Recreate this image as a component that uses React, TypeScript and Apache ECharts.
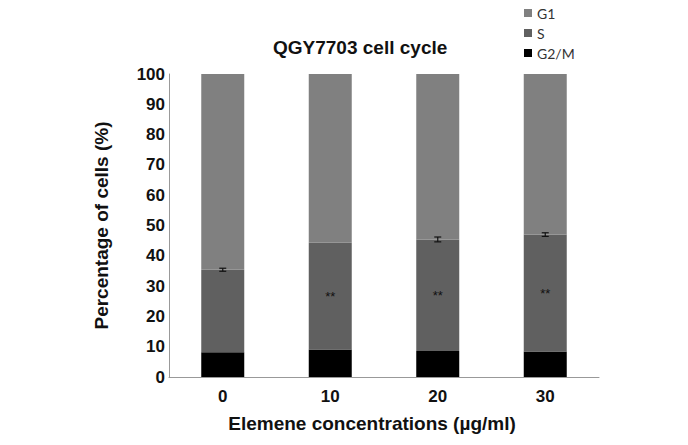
import React, { useEffect, useRef } from "react";
import * as echarts from "echarts";

const categories = ["0", "10", "20", "30"];
const g2m = [8.2, 9.1, 8.6, 8.4];
const sPhase = [27.2, 35.2, 36.8, 38.6];
const g1 = [64.6, 55.7, 54.6, 53.0];
const sError = [0.5, 0, 0.8, 0.6];
const significance = ["", "**", "**", "**"];
const yTicks = [0, 10, 20, 30, 40, 50, 60, 70, 80, 90, 100];

const FONT = "Liberation Sans, Arial, sans-serif";

export default function App() {
  const ref = useRef<HTMLDivElement>(null);
  useEffect(() => {
    if (!ref.current) return;
    const chart = echarts.init(ref.current, null, { renderer: "svg" });
    const errData = categories.map((c, i) => [i, g2m[i] + sPhase[i], sError[i]]);
    chart.setOption({
      animation: false,
      backgroundColor: "#ffffff",
      title: {
        text: "QGY7703 cell cycle",
        left: 268,
        top: 33,
        textStyle: { fontFamily: FONT, fontSize: 19, fontWeight: "bold", color: "#111" },
      },
      legend: {
        data: ["G1", "S", "G2/M"],
        orient: "vertical",
        left: 519,
        top: 1,
        itemWidth: 8,
        itemHeight: 8,
        itemGap: 6,
        icon: "rect",
        textStyle: { fontFamily: "Lato, sans-serif", fontSize: 14, color: "#333", lineHeight: 14, padding: [0, 0, 0, 0] },
      },
      grid: { left: 169, right: 89, top: 74, bottom: 68 },
      xAxis: {
        type: "category",
        data: categories,
        axisTick: { show: false },
        axisLine: { lineStyle: { color: "#999", width: 1 } },
        axisLabel: { fontFamily: FONT, fontSize: 17, fontWeight: "bold", color: "#111", margin: 11 },
        name: "Elemene concentrations (µg/ml)",
        nameLocation: "middle",
        nameGap: 37,
        nameTextStyle: { fontFamily: FONT, fontSize: 19, fontWeight: "bold", color: "#111", padding: [0, 24, 0, 0] },
      },
      yAxis: {
        type: "value",
        min: yTicks[0],
        max: yTicks[yTicks.length - 1],
        interval: yTicks[1] - yTicks[0],
        splitLine: { show: false },
        axisTick: { show: false },
        axisLine: { show: true, lineStyle: { color: "#999", width: 1 } },
        axisLabel: { fontFamily: FONT, fontSize: 17, fontWeight: "bold", color: "#111", margin: 4 },
        name: "Percentage of cells (%)",
        nameLocation: "middle",
        nameGap: 58,
        nameTextStyle: { fontFamily: FONT, fontSize: 19, fontWeight: "bold", color: "#111" },
      },
      series: [
        {
          name: "G2/M",
          type: "bar",
          stack: "total",
          barWidth: 43,
          itemStyle: { color: "#000000" },
          data: g2m,
        },
        {
          name: "S",
          type: "bar",
          stack: "total",
          barWidth: 43,
          itemStyle: { color: "#606060" },
          data: sPhase.map((v, i) => ({
            value: v,
            label: {
              show: significance[i] !== "",
              position: "inside",
              formatter: significance[i],
              fontFamily: FONT,
              fontSize: 13,
              color: "#111",
            },
          })),
        },
        {
          name: "G1",
          type: "bar",
          stack: "total",
          barWidth: 43,
          itemStyle: { color: "#808080" },
          data: g1,
        },
        {
          name: "err",
          type: "custom",
          z: 10,
          data: errData,
          renderItem: (params: any, api: any) => {
            const x = api.value(0);
            const y = api.value(1);
            const e = api.value(2);
            if (!e) return null;
            const top = api.coord([x, y + e]);
            const bot = api.coord([x, y - e]);
            const hw = 3.5;
            const style = { stroke: "#111", lineWidth: 1.2 };
            return {
              type: "group",
              children: [
                { type: "line", shape: { x1: top[0], y1: top[1], x2: bot[0], y2: bot[1] }, style },
                { type: "line", shape: { x1: top[0] - hw, y1: top[1], x2: top[0] + hw, y2: top[1] }, style },
                { type: "line", shape: { x1: bot[0] - hw, y1: bot[1], x2: bot[0] + hw, y2: bot[1] }, style },
              ],
            };
          },
        },
      ],
    });
    return () => chart.dispose();
  }, []);
  return (
    <div
      ref={ref}
      style={{ position: "fixed", left: 0, top: 0, width: 688, height: 445 }}
    />
  );
}
